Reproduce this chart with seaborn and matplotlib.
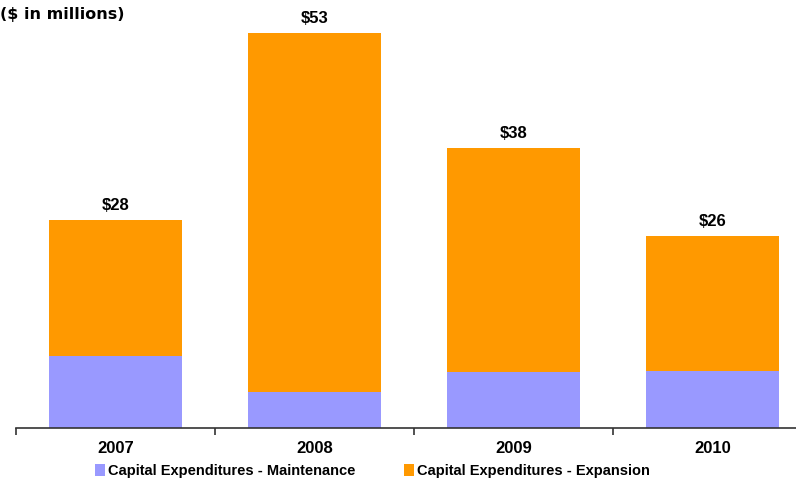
import matplotlib
matplotlib.use("Agg")
import matplotlib.pyplot as plt
from matplotlib.patches import Patch
import seaborn as sns
import pandas as pd

# Capital expenditures by year, $ in millions
years = ["2007", "2008", "2009", "2010"]
maintenance = [9.6, 4.8, 7.5, 7.6]
expansion = [18.3, 48.2, 30.1, 18.1]

maint_label = "Capital Expenditures - Maintenance"
expan_label = "Capital Expenditures - Expansion"
maint_color = "#9999FF"
expan_color = "#FF9900"

df = pd.DataFrame({"year": years, "maintenance": maintenance, "expansion": expansion})
df["total"] = df["maintenance"] + df["expansion"]

sns.set_theme(style="white")
plt.rcParams["font.family"] = ["Liberation Sans", "DejaVu Sans"]
plt.rcParams["text.color"] = "black"
plt.rcParams["xtick.color"] = "black"

fig = plt.figure(figsize=(7.96, 4.80), dpi=100)
ax = fig.add_axes([16 / 796, (480 - 427.5) / 480, 796 / 796, 427.5 / 480])

# stacked bars: full height in orange, maintenance drawn over the base
sns.barplot(data=df, x="year", y="total", color=expan_color, width=0.67,
            saturation=1, linewidth=0, ax=ax)
sns.barplot(data=df, x="year", y="maintenance", color=maint_color, width=0.67,
            saturation=1, linewidth=0, ax=ax)

ax.set_xlim(-0.5, 3.5)
ax.set_ylim(0, 427.5 / 7.443)

for i, t in enumerate(df["total"]):
    ax.annotate(f"${t:.0f}", xy=(i, t), xytext=(0, 5), textcoords="offset points",
                ha="center", va="bottom", fontsize=12, fontweight="bold",
                color="black")

ax.set_xlabel("")
ax.set_ylabel("")
ax.set_yticks([])
for side in ["left", "right", "top"]:
    ax.spines[side].set_visible(False)
ax.spines["bottom"].set_color("#333333")
ax.spines["bottom"].set_linewidth(1.2)

ax.set_xticks(range(len(years)))
ax.set_xticklabels(years, fontsize=12, fontweight="bold", color="black")
ax.tick_params(axis="x", which="major", length=0, pad=10)
ax.set_xticks([-0.5, 0.5, 1.5, 2.5, 3.5], minor=True)
ax.tick_params(axis="x", which="minor", length=5, width=1.2, color="#333333",
               direction="out", bottom=True)

fig.text(0, 480 - 14, "($ in millions)", transform=None, ha="left", va="center",
         fontsize=11.5, fontweight="bold", color="black", family=["DejaVu Sans"])

handles = [Patch(facecolor=maint_color, edgecolor="none", label=maint_label),
           Patch(facecolor=expan_color, edgecolor="none", label=expan_label)]
fig.legend(handles=handles, loc="center left", bbox_to_anchor=(82 / 796, 9 / 480),
           ncol=2, frameon=False, handlelength=0.7, handleheight=0.9,
           handletextpad=0.2, columnspacing=3.3,
           prop={"size": 10.5, "weight": "bold"})

fig.savefig("out.png", dpi=100)
